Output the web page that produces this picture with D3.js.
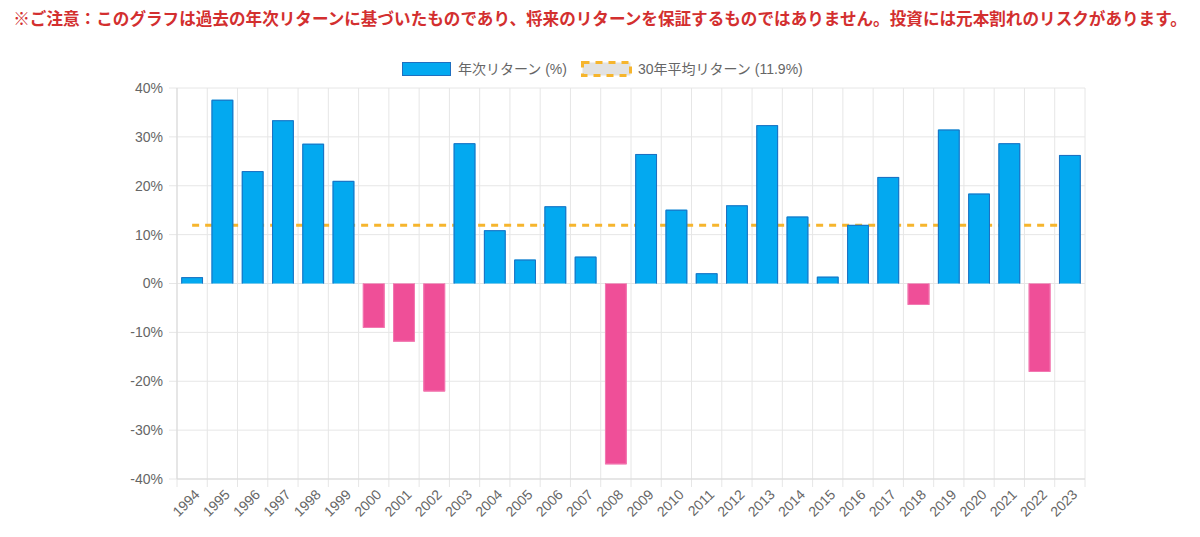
<!DOCTYPE html>
<html>
<head>
<meta charset="utf-8">
<script src="https://cdn.jsdelivr.net/npm/d3@7"></script>
<style>
  body { margin: 0; background: #fff; }
  svg { display: block; }
</style>
</head>
<body>
<div id="chart"></div>
<script>
// data
var years = ["1994","1995","1996","1997","1998","1999","2000","2001","2002","2003",
             "2004","2005","2006","2007","2008","2009","2010","2011","2012","2013",
             "2014","2015","2016","2017","2018","2019","2020","2021","2022","2023"];
var annualReturns = [1.3, 37.6, 23.0, 33.4, 28.6, 21.0, -9.1, -11.9, -22.1, 28.7,
                     10.9, 4.9, 15.8, 5.5, -37.0, 26.5, 15.1, 2.1, 16.0, 32.4,
                     13.7, 1.4, 12.0, 21.8, -4.4, 31.5, 18.4, 28.7, -18.1, 26.3];
var avgReturn = 11.9;
var yTicks = [-40, -30, -20, -10, 0, 10, 20, 30, 40];
var legendLabels = ["年次リターン (%)", "30年平均リターン (" + avgReturn + "%)"];
var noteText = "※ご注意：このグラフは過去の年次リターンに基づいたものであり、将来のリターンを保証するものではありません。投資には元本割れのリスクがあります。";

var width = 1200, height = 537;
var margin = { top: 88, right: 115, bottom: 58, left: 177 };
var plotW = width - margin.left - margin.right,
    plotH = height - margin.top - margin.bottom;

var fontStack = "'Helvetica Neue', Helvetica, Arial, 'Liberation Sans', 'Noto Sans CJK JP', sans-serif";
var textColor = "#666";
var gridColor = "#e6e6e6";

var svg = d3.select("#chart").append("svg")
    .attr("width", width)
    .attr("height", height)
    .style("font-family", fontStack);

// warning note at the top
svg.append("text")
    .attr("x", width / 2)
    .attr("y", 19)
    .attr("dy", "0.35em")
    .attr("text-anchor", "middle")
    .attr("fill", "#d32f2f")
    .style("font-weight", "bold")
    .style("font-size", "16.6px")
    .style("font-family", "'Noto Sans CJK JP', sans-serif")
    .text(noteText);

var g = svg.append("g")
    .attr("transform", "translate(" + margin.left + "," + margin.top + ")");

// scales
var x = d3.scaleBand().domain(years).range([0, plotW]);
var y = d3.scaleLinear().domain([-40, 40]).range([plotH, 0]);
var barW = x.bandwidth() * 0.72;

// vertical grid at category edges (with ticks below the axis)
var edges = years.map(function (d) { return x(d); }).concat([plotW]);
g.append("g").selectAll("line")
    .data(edges)
    .enter().append("line")
    .attr("x1", function (d) { return d; })
    .attr("x2", function (d) { return d; })
    .attr("y1", 0)
    .attr("y2", plotH + 8)
    .attr("stroke", gridColor)
    .attr("stroke-width", 1);

// horizontal grid
g.append("g").selectAll("line")
    .data(yTicks)
    .enter().append("line")
    .attr("x1", -8)
    .attr("x2", plotW)
    .attr("y1", function (d) { return y(d); })
    .attr("y2", function (d) { return y(d); })
    .attr("stroke", gridColor)
    .attr("stroke-width", 1);

// axis borders
g.append("line")
    .attr("x1", 0).attr("x2", 0)
    .attr("y1", 0).attr("y2", plotH)
    .attr("stroke", "#d9d9d9");
g.append("line")
    .attr("x1", 0).attr("x2", plotW)
    .attr("y1", plotH).attr("y2", plotH)
    .attr("stroke", "#d9d9d9");

// y axis labels
var yAxis = d3.axisLeft(y)
    .tickValues(yTicks)
    .tickSize(0)
    .tickPadding(14)
    .tickFormat(function (d) { return d + "%"; });
var yG = g.append("g").call(yAxis);
yG.select(".domain").remove();
yG.selectAll("text")
    .attr("fill", textColor)
    .style("font-size", "14px")
    .style("font-family", fontStack);

// x axis labels, rotated
g.append("g").selectAll("text")
    .data(years)
    .enter().append("text")
    .attr("transform", function (d) {
        return "translate(" + (x(d) + x.bandwidth() / 2 + 5) + "," + (plotH + 13) + ") rotate(-45)";
    })
    .attr("text-anchor", "end")
    .attr("dy", "0.35em")
    .attr("fill", textColor)
    .style("font-size", "14px")
    .text(function (d) { return d; });

// average line (drawn under bars)
var avgLine = d3.line()
    .x(function (d) { return x(d) + x.bandwidth() / 2; })
    .y(function () { return y(avgReturn); });
g.append("path")
    .datum(years)
    .attr("d", avgLine)
    .attr("fill", "none")
    .attr("stroke", "#f6b52d")
    .attr("stroke-width", 3)
    .attr("stroke-dasharray", "7,6");

// bars
var bars = g.append("g").selectAll("g")
    .data(annualReturns)
    .enter().append("g");

bars.append("rect")
    .attr("x", function (d, i) { return x(years[i]) + (x.bandwidth() - barW) / 2; })
    .attr("y", function (d) { return d >= 0 ? y(d) : y(0); })
    .attr("width", barW)
    .attr("height", function (d) { return Math.abs(y(d) - y(0)); })
    .attr("fill", function (d) { return d >= 0 ? "#03a9f0" : "#ef4f98"; });

// border on three sides (skip the base), like the original
bars.append("path")
    .attr("d", function (d, i) {
        var x0 = x(years[i]) + (x.bandwidth() - barW) / 2 + 0.5,
            x1 = x0 + barW - 1,
            y0 = y(0),
            y1 = d >= 0 ? y(d) + 0.5 : y(d) - 0.5;
        return "M" + x0 + "," + y0 + "V" + y1 + "H" + x1 + "V" + y0;
    })
    .attr("fill", "none")
    .attr("stroke", function (d) { return d >= 0 ? "#1f6fc0" : "#f27ab2"; })
    .attr("stroke-width", 1);

// legend
var legend = svg.append("g").attr("transform", "translate(0,69)");
legend.append("rect")
    .attr("x", 402.5).attr("y", -6.5)
    .attr("width", 48).attr("height", 13)
    .attr("fill", "#03a9f0")
    .attr("stroke", "#1f6fc0")
    .attr("stroke-width", 1);
legend.append("text")
    .attr("x", 458).attr("dy", "0.35em")
    .attr("fill", textColor)
    .style("font-size", "14px")
    .text(legendLabels[0]);
legend.append("rect")
    .attr("x", 582.5).attr("y", -6.5)
    .attr("width", 48).attr("height", 13)
    .attr("fill", "#e2e2e2")
    .attr("stroke", "#f6b52d")
    .attr("stroke-width", 3)
    .attr("stroke-dasharray", "7,6");
legend.append("text")
    .attr("x", 638).attr("dy", "0.35em")
    .attr("fill", textColor)
    .style("font-size", "14px")
    .text(legendLabels[1]);
</script>
</body>
</html>
